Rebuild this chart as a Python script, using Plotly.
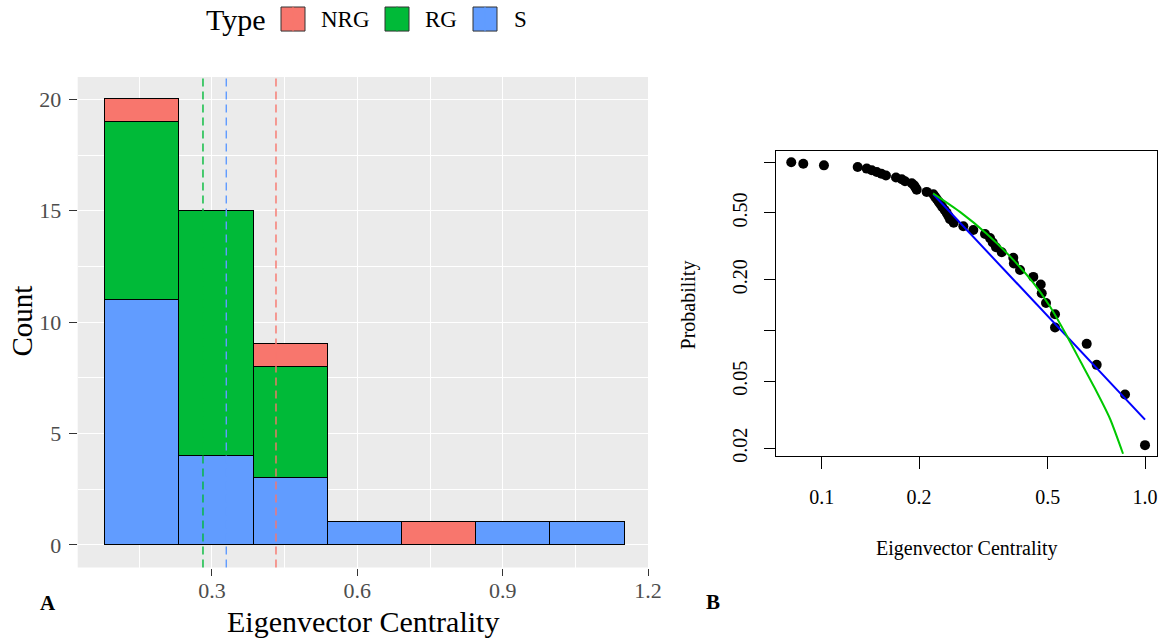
import plotly.graph_objects as go

# figure canvas; positions below are given in a 1162 x 639 frame and converted to paper fractions
W, H = 1176, 647
FW, FH = 1162.0, 639.0

# ---------------- Panel A: stacked histogram of eigenvector centrality ----------------
bin_centers = [0.1553, 0.3085, 0.4617, 0.6149, 0.7681, 0.9213, 1.0745]
bin_width = 0.1532
count_S = [11, 4, 3, 1, None, 1, 1]
count_RG = [8, 11, 5, None, None, None, None]
count_NRG = [1, None, 1, None, 1, None, None]

type_names = ["NRG", "RG", "S"]
type_colors = {"NRG": "#F8766D", "RG": "#00BA38", "S": "#619CFF"}
type_means = {"RG": 0.2814, "S": 0.3295, "NRG": 0.4321}

# ---------------- Panel B: complementary CDF on log-log axes ----------------
ccdf_x = [0.0805, 0.0877, 0.1016, 0.1292, 0.1378, 0.1428, 0.1480, 0.1530,
          0.1580, 0.1697, 0.1768, 0.1810, 0.1899, 0.1930, 0.1950, 0.1967,
          0.2112, 0.2214, 0.2240, 0.2268, 0.2300, 0.2330, 0.2360, 0.2400,
          0.2435, 0.2465, 0.2493, 0.2560, 0.2742, 0.2944, 0.3200, 0.3316,
          0.3380, 0.3460, 0.3604, 0.3914, 0.3930, 0.4106, 0.4513, 0.4758,
          0.4792, 0.4941, 0.5268, 0.5268, 0.6602, 0.7088, 0.8673, 1.0000]
ccdf_p = [k / 48 for k in range(48, 0, -1)]

powerlaw_x = [0.2214, 1.0000]
powerlaw_p = [0.645, 0.02954]

fit2_x = [0.2210, 0.2677, 0.3237, 0.3824, 0.4503, 0.5083, 0.5655, 0.6295,
          0.7003, 0.7794, 0.8551]
fit2_p = [0.6538, 0.5073, 0.3763, 0.2758, 0.1931, 0.1389, 0.0973, 0.0663,
          0.0452, 0.0299, 0.01853]

x_ticks_B = [0.1, 0.2, 0.5, 1.0]
x_ticklabels_B = ["0.1", "0.2", "0.5", "1.0"]
y_ticks_B = [1.0, 0.5, 0.2, 0.1, 0.05, 0.02]
y_ticklabels_B = ["", "0.50", "0.20", "", "0.05", "0.02"]

SERIF = "Liberation Serif"


def fx(px):
    return px / FW


def fy(py):
    return 1 - py / FH


fig = go.Figure()

# stacked bars, bottom to top: S, RG, NRG
for name, counts in (("S", count_S), ("RG", count_RG), ("NRG", count_NRG)):
    fig.add_trace(go.Bar(
        x=bin_centers, y=counts, width=bin_width, name=name,
        marker=dict(color=type_colors[name], line=dict(color="black", width=1)),
        xaxis="x", yaxis="y", showlegend=False,
    ))

fig.add_trace(go.Scatter(
    x=ccdf_x, y=ccdf_p, mode="markers",
    marker=dict(color="black", size=10),
    xaxis="x2", yaxis="y2", showlegend=False,
))
fig.add_trace(go.Scatter(
    x=powerlaw_x, y=powerlaw_p, mode="lines",
    line=dict(color="#0000FF", width=2),
    xaxis="x2", yaxis="y2", showlegend=False,
))
fig.add_trace(go.Scatter(
    x=fit2_x, y=fit2_p, mode="lines", line_shape="spline",
    line=dict(color="#00C800", width=2, smoothing=0.6),
    xaxis="x2", yaxis="y2", showlegend=False,
))

shapes = []
# gray panel background for A
shapes.append(dict(type="rect", xref="x domain", yref="y domain", x0=0, x1=1, y0=0, y1=1,
                   fillcolor="#EBEBEB", line=dict(width=0), layer="below"))
# dashed mean lines per type
for name in ("RG", "S", "NRG"):
    shapes.append(dict(type="line", xref="x", yref="y domain",
                       x0=type_means[name], x1=type_means[name], y0=0, y1=1,
                       line=dict(color=type_colors[name], width=1.4, dash="8px,5px")))

# legend keys
key_left = {"NRG": 281, "RG": 385, "S": 473}
label_left = {"NRG": 319, "RG": 423, "S": 512}
annotations = []
for name in type_names:
    x0 = key_left[name]
    shapes.append(dict(type="rect", xref="paper", yref="paper",
                       x0=fx(x0), x1=fx(x0 + 24), y0=fy(31), y1=fy(7),
                       fillcolor=type_colors[name], line=dict(color="#333333", width=1)))
    shapes.append(dict(type="line", xref="paper", yref="paper",
                       x0=fx(x0 + 12), x1=fx(x0 + 12), y0=fy(31.5), y1=fy(6.5),
                       line=dict(color=type_colors[name], width=1)))
    annotations.append(dict(text=name, xref="paper", yref="paper",
                            x=fx(label_left[name]), y=fy(19), xanchor="left", yanchor="middle",
                            showarrow=False, font=dict(family=SERIF, size=23, color="black")))

annotations += [
    dict(text="Type", xref="paper", yref="paper", x=fx(204), y=fy(19),
         xanchor="left", yanchor="middle", showarrow=False,
         font=dict(family=SERIF, size=30, color="black")),
    dict(text="Count", xref="paper", yref="paper", x=fx(22), y=fy(321),
         xanchor="center", yanchor="middle", textangle=-90, showarrow=False,
         font=dict(family=SERIF, size=29, color="black")),
    dict(text="Eigenvector Centrality", xref="paper", yref="paper", x=fx(363), y=fy(621),
         xanchor="center", yanchor="middle", showarrow=False,
         font=dict(family=SERIF, size=30, color="black")),
    dict(text="Probability", xref="paper", yref="paper", x=fx(688), y=fy(305),
         xanchor="center", yanchor="middle", textangle=-90, showarrow=False,
         font=dict(family=SERIF, size=20, color="black")),
    dict(text="Eigenvector Centrality", xref="paper", yref="paper", x=fx(967), y=fy(548),
         xanchor="center", yanchor="middle", showarrow=False,
         font=dict(family=SERIF, size=20, color="black")),
    dict(text="<b>A</b>", xref="paper", yref="paper", x=fx(48), y=fy(602),
         xanchor="center", yanchor="middle", showarrow=False,
         font=dict(family=SERIF, size=21, color="black")),
    dict(text="<b>B</b>", xref="paper", yref="paper", x=fx(713), y=fy(601),
         xanchor="center", yanchor="middle", showarrow=False,
         font=dict(family=SERIF, size=21, color="black")),
]

tick_font_A = dict(family=SERIF, size=22, color="#4D4D4D")
tick_font_B = dict(family=SERIF, size=20, color="black")

fig.update_layout(
    width=W, height=H, autosize=False,
    margin=dict(l=0, r=0, t=0, b=0),
    paper_bgcolor="white", plot_bgcolor="white",
    barmode="stack", bargap=0,
    shapes=shapes, annotations=annotations,
    xaxis=dict(
        domain=[fx(77.7), fx(648)], range=[0.0228, 1.2], anchor="y",
        tickvals=[0.3, 0.6, 0.9, 1.2], ticktext=["0.3", "0.6", "0.9", "1.2"],
        ticks="outside", ticklen=7, tickwidth=1.2, tickcolor="#333333",
        tickfont=tick_font_A, ticklabelstandoff=-4,
        showgrid=True, gridcolor="white", gridwidth=1.3, zeroline=False, showline=False,
        minor=dict(tickvals=[0.15, 0.45, 0.75, 1.05], showgrid=True,
                   gridcolor="white", gridwidth=0.6, ticks=""),
    ),
    yaxis=dict(
        domain=[fy(566.7), fy(77)], range=[-1.02, 21], anchor="x",
        tickvals=[0, 5, 10, 15, 20],
        ticks="outside", ticklen=8, tickwidth=1.2, tickcolor="#333333",
        tickfont=tick_font_A, ticklabelstandoff=3,
        showgrid=True, gridcolor="white", gridwidth=1.3, zeroline=False, showline=False,
        minor=dict(tickvals=[2.5, 7.5, 12.5, 17.5], showgrid=True,
                   gridcolor="white", gridwidth=0.6, ticks=""),
    ),
    xaxis2=dict(
        domain=[fx(776), fx(1157)], type="log", range=[-1.1414, 0.0371], anchor="y2",
        tickvals=x_ticks_B, ticktext=x_ticklabels_B,
        ticks="outside", ticklen=12, tickwidth=1, tickcolor="black",
        tickfont=tick_font_B, ticklabelstandoff=11,
        showline=True, linecolor="black", linewidth=1, mirror=True,
        showgrid=False, zeroline=False,
    ),
    yaxis2=dict(
        domain=[fy(455), fy(151)], type="log", range=[-1.744, 0.0655], anchor="x2",
        tickvals=y_ticks_B, ticktext=y_ticklabels_B, tickangle=-90,
        ticks="outside", ticklen=11, tickwidth=1, tickcolor="black",
        tickfont=tick_font_B, ticklabelstandoff=9,
        showline=True, linecolor="black", linewidth=1, mirror=True,
        showgrid=False, zeroline=False,
    ),
)

fig.write_html("out.html", config={"responsive": False})
